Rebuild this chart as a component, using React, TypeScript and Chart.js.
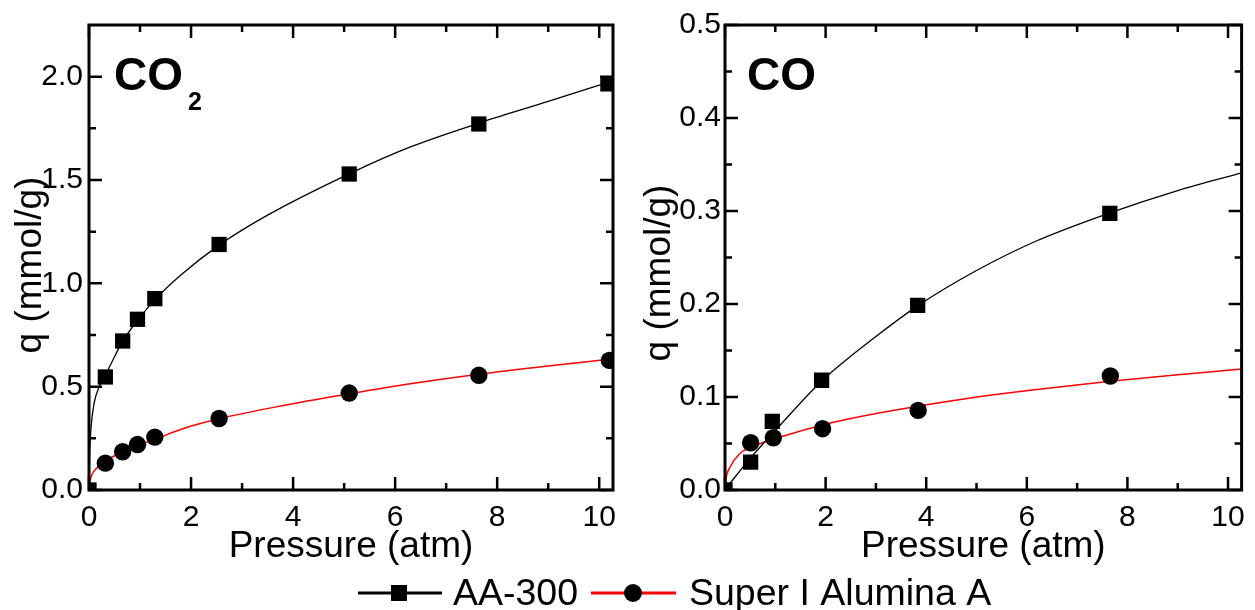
import React, { useEffect, useRef } from 'react';
import { Chart, registerables } from 'chart.js';

Chart.register(...registerables);

const FONT = "'Liberation Sans', Arial, Helvetica, sans-serif";

// ---------- CO2 panel data ----------
const co2AAPressure = [0, 0.32, 0.66, 0.95, 1.29, 2.55, 5.1, 7.64, 10.17];
const co2AAUptake = [0, 0.547, 0.721, 0.826, 0.926, 1.188, 1.529, 1.771, 1.965];
const co2SIPressure = [0.32, 0.66, 0.95, 1.29, 2.55, 5.1, 7.64, 10.2];
const co2SIUptake = [0.13, 0.185, 0.22, 0.256, 0.346, 0.469, 0.555, 0.627];
const co2AAFitPressure = [0, 0.01, 0.04, 0.1, 0.2, 0.32, 0.5, 0.66, 0.95, 1.29, 1.8, 2.55, 3.5, 5.1, 6.3, 7.64, 9, 10.27];
const co2AAFitUptake = [0, 0.15, 0.3, 0.42, 0.5, 0.555, 0.645, 0.72, 0.82, 0.92, 1.04, 1.185, 1.33, 1.53, 1.66, 1.775, 1.88, 1.98];
const co2SIFitPressure = [0, 0.02, 0.05, 0.15, 0.32, 0.66, 0.95, 1.29, 1.88, 2.55, 3.84, 5.1, 6.2, 7.64, 9, 10.27];
const co2SIFitUptake = [0, 0.04, 0.07, 0.105, 0.14, 0.185, 0.215, 0.245, 0.3, 0.345, 0.41, 0.465, 0.51, 0.56, 0.6, 0.635];

// ---------- CO panel data ----------
const coAAPressure = [0, 0.51, 0.94, 1.92, 3.83, 7.65];
const coAAUptake = [0, 0.03, 0.0737, 0.118, 0.1986, 0.2975];
const coSIPressure = [0.51, 0.96, 1.94, 3.84, 7.66];
const coSIUptake = [0.0508, 0.0562, 0.0659, 0.0856, 0.1226];
const coAAFitPressure = [0, 0.2, 0.5, 1.0, 1.92, 3, 3.83, 5, 6.2, 7.65, 9, 10.27];
const coAAFitUptake = [0, 0.014, 0.034, 0.064, 0.117, 0.165, 0.198, 0.236, 0.268, 0.298, 0.322, 0.341];
const coSIFitPressure = [0, 0.02, 0.1, 0.29, 0.52, 1.1, 2.02, 3.06, 4.88, 6.2, 7.66, 9, 10.27];
const coSIFitUptake = [0, 0.012, 0.0245, 0.039, 0.046, 0.057, 0.071, 0.0827, 0.099, 0.108, 0.117, 0.124, 0.13];

// ---------- axes ----------
const xTickValues = [0, 2, 4, 6, 8, 10];
const xTickLabels = ['0', '2', '4', '6', '8', '10'];
const xMinorValues = [1, 3, 5, 7, 9];
const co2YTickValues = [0, 0.5, 1.0, 1.5, 2.0];
const co2YTickLabels = ['0.0', '0.5', '1.0', '1.5', '2.0'];
const co2YMinorValues = [0.25, 0.75, 1.25, 1.75];
const coYTickValues = [0, 0.1, 0.2, 0.3, 0.4, 0.5];
const coYTickLabels = ['0.0', '0.1', '0.2', '0.3', '0.4', '0.5'];
const coYMinorValues = [0.05, 0.15, 0.25, 0.35, 0.45];

const seriesNames = ['AA-300', 'Super I Alumina A'];
const xTitle = 'Pressure (atm)';
const yTitle = 'q (mmol/g)';

const pts = (xs: number[], ys: number[]) => xs.map((x, i) => ({ x, y: ys[i] }));

interface PanelSpec {
  width: number;
  height: number;
  yAxisWidth: number;
  padRight: number;
  xMax: number;
  yMax: number;
  yTicks: number[];
  yLabels: string[];
  yMinor: number[];
  yPad: number;
  aa: { x: number; y: number }[];
  si: { x: number; y: number }[];
  aaFit: { x: number; y: number }[];
  siFit: { x: number; y: number }[];
  gas: string;
  sub: string;
  gasX: number;
  yTitleX: number;
  yTitleY: number;
}

function makeConfig(p: PanelSpec): any {
  const framePlugin = {
    id: 'frameTicks',
    afterDatasetsDraw(chart: any) {
      const { ctx, chartArea } = chart;
      const xs = chart.scales.x;
      const ys = chart.scales.y;
      const { left, right, top, bottom } = chartArea;
      ctx.save();
      ctx.strokeStyle = '#000';
      ctx.lineWidth = 3;
      ctx.strokeRect(left, top, right - left, bottom - top);
      ctx.lineWidth = 2.5;
      const major = 13;
      const minor = 7;
      const vTick = (v: number, len: number) => {
        const px = xs.getPixelForValue(v);
        ctx.beginPath();
        ctx.moveTo(px, bottom);
        ctx.lineTo(px, bottom - len);
        ctx.moveTo(px, top);
        ctx.lineTo(px, top + len);
        ctx.stroke();
      };
      const hTick = (v: number, len: number) => {
        const py = ys.getPixelForValue(v);
        ctx.beginPath();
        ctx.moveTo(left, py);
        ctx.lineTo(left + len, py);
        ctx.moveTo(right, py);
        ctx.lineTo(right - len, py);
        ctx.stroke();
      };
      xTickValues.forEach((v) => vTick(v, major));
      xMinorValues.forEach((v) => vTick(v, minor));
      p.yTicks.forEach((v) => hTick(v, major));
      p.yMinor.forEach((v) => hTick(v, minor));
      ctx.restore();
    },
    afterDraw(chart: any) {
      const { ctx, chartArea } = chart;
      ctx.save();
      ctx.fillStyle = '#000';
      // x title
      ctx.font = `37px ${FONT}`;
      ctx.textAlign = 'center';
      ctx.textBaseline = 'alphabetic';
      ctx.fillText(xTitle, (chartArea.left + chartArea.right) / 2, 557);
      // y title
      ctx.save();
      ctx.translate(p.yTitleX, p.yTitleY);
      ctx.rotate(-Math.PI / 2);
      ctx.textBaseline = 'middle';
      ctx.fillText(yTitle, 0, 0);
      ctx.restore();
      // gas label
      ctx.textAlign = 'left';
      ctx.textBaseline = 'alphabetic';
      ctx.font = `bold 46px ${FONT}`;
      ctx.fillText(p.gas, p.gasX, 90);
      if (p.sub) {
        const w = ctx.measureText(p.gas).width;
        ctx.font = `bold 25px ${FONT}`;
        ctx.fillText(p.sub, p.gasX + w + 5, 110);
      }
      ctx.restore();
    },
  };

  return {
    type: 'scatter',
    data: {
      datasets: [
        {
          label: seriesNames[0],
          data: p.aa,
          showLine: false,
          pointStyle: 'rect',
          pointRadius: 10.8,
          pointHoverRadius: 10.8,
          backgroundColor: '#000',
          borderColor: '#000',
          borderWidth: 0,
        },
        {
          label: seriesNames[1],
          data: p.si,
          showLine: false,
          pointStyle: 'circle',
          pointRadius: 8.7,
          pointHoverRadius: 8.7,
          backgroundColor: '#000',
          borderColor: '#000',
          borderWidth: 0,
        },
        {
          label: seriesNames[0] + ' fit',
          type: 'line',
          data: p.aaFit,
          showLine: true,
          pointRadius: 0,
          borderColor: '#000',
          borderWidth: 1.3,
          cubicInterpolationMode: 'monotone',
          fill: false,
        },
        {
          label: seriesNames[1] + ' fit',
          type: 'line',
          data: p.siFit,
          showLine: true,
          pointRadius: 0,
          borderColor: '#ff0000',
          borderWidth: 1.5,
          cubicInterpolationMode: 'monotone',
          fill: false,
        },
      ],
    },
    options: {
      responsive: false,
      animation: false,
      events: [],
      layout: { padding: { left: 0, top: 25, right: p.padRight, bottom: 0 } },
      plugins: {
        legend: { display: false },
        tooltip: { enabled: false },
        title: { display: false },
      },
      scales: {
        x: {
          type: 'linear',
          min: 0,
          max: p.xMax,
          grid: { display: false, drawTicks: false },
          border: { display: false },
          afterBuildTicks: (s: any) => {
            s.ticks = xTickValues.map((v) => ({ value: v }));
          },
          afterFit: (s: any) => {
            s.height = p.height - 490;
          },
          ticks: {
            padding: 10,
            color: '#000',
            font: { family: FONT, size: 30 },
            maxRotation: 0,
            autoSkip: false,
            callback: (_v: any, i: number) => xTickLabels[i],
          },
        },
        y: {
          type: 'linear',
          min: 0,
          max: p.yMax,
          grid: { display: false, drawTicks: false },
          border: { display: false },
          afterBuildTicks: (s: any) => {
            s.ticks = p.yTicks.map((v) => ({ value: v }));
          },
          afterFit: (s: any) => {
            s.width = p.yAxisWidth;
          },
          ticks: {
            padding: p.yPad,
            color: '#000',
            font: { family: FONT, size: 30 },
            autoSkip: false,
            callback: (_v: any, i: number) => p.yLabels[i],
          },
        },
      },
    },
    plugins: [framePlugin],
  };
}

function Panel({ spec, left }: { spec: PanelSpec; left: number }) {
  const ref = useRef<HTMLCanvasElement | null>(null);
  useEffect(() => {
    if (!ref.current) return;
    const chart = new Chart(ref.current, makeConfig(spec));
    return () => chart.destroy();
  }, []);
  return (
    <canvas
      ref={ref}
      width={spec.width}
      height={spec.height}
      style={{ position: 'absolute', left, top: 0, width: spec.width, height: spec.height }}
    />
  );
}

function Legend() {
  const ref = useRef<HTMLCanvasElement | null>(null);
  useEffect(() => {
    const c = ref.current;
    if (!c) return;
    const ctx = c.getContext('2d');
    if (!ctx) return;
    ctx.clearRect(0, 0, c.width, c.height);
    const cy = 23;
    // AA-300
    ctx.fillStyle = '#000';
    ctx.fillRect(358, cy - 1.5, 84, 3);
    ctx.fillRect(399 - 8, cy - 8, 16, 16);
    // Super I Alumina A
    ctx.fillStyle = '#ff0000';
    ctx.fillRect(591, cy - 1.5, 85, 3);
    ctx.fillStyle = '#000';
    ctx.beginPath();
    ctx.arc(633, cy, 9, 0, Math.PI * 2);
    ctx.fill();
    ctx.font = `37.5px ${FONT}`;
    ctx.textBaseline = 'alphabetic';
    ctx.textAlign = 'left';
    ctx.fillText(seriesNames[0], 453, 35);
    ctx.fillText(seriesNames[1], 689, 35);
  }, []);
  return (
    <canvas
      ref={ref}
      width={1255}
      height={40}
      style={{ position: 'absolute', left: 0, top: 570, width: 1255, height: 40 }}
    />
  );
}

const co2Spec: PanelSpec = {
  width: 627,
  height: 570,
  yAxisWidth: 89,
  padRight: 14,
  xMax: 10.27,
  yMax: 2.25,
  yTicks: co2YTickValues,
  yLabels: co2YTickLabels,
  yMinor: co2YMinorValues,
  yPad: 6,
  aa: pts(co2AAPressure, co2AAUptake),
  si: pts(co2SIPressure, co2SIUptake),
  aaFit: pts(co2AAFitPressure, co2AAFitUptake),
  siFit: pts(co2SIFitPressure, co2SIFitUptake),
  gas: 'CO',
  sub: '2',
  gasX: 114,
  yTitleX: 31,
  yTitleY: 265,
};

const coSpec: PanelSpec = {
  width: 628,
  height: 570,
  yAxisWidth: 98,
  padRight: 4,
  xMax: 10.27,
  yMax: 0.5,
  yTicks: coYTickValues,
  yLabels: coYTickLabels,
  yMinor: coYMinorValues,
  yPad: 4,
  aa: pts(coAAPressure, coAAUptake),
  si: pts(coSIPressure, coSIUptake),
  aaFit: pts(coAAFitPressure, coAAFitUptake),
  siFit: pts(coSIFitPressure, coSIFitUptake),
  gas: 'CO',
  sub: '',
  gasX: 120,
  yTitleX: 33,
  yTitleY: 273,
};

export default function App() {
  return (
    <div style={{ position: 'absolute', left: 0, top: 0, width: 1255, height: 610, background: '#fff' }}>
      <Panel spec={co2Spec} left={0} />
      <Panel spec={coSpec} left={627} />
      <Legend />
    </div>
  );
}
